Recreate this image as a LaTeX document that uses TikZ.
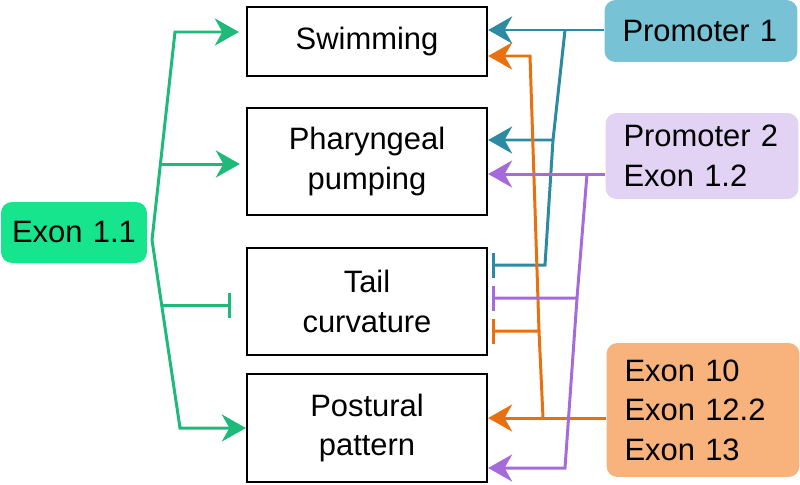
\documentclass[tikz,border=0pt]{standalone}
\usepackage{fontspec}
\setmainfont{Liberation Sans}[WordSpace=1.6]
\usepackage{tikz}
\usetikzlibrary{arrows.meta}
\usepackage{xcolor}
\definecolor{mint}{HTML}{17E58E}
\definecolor{mintline}{HTML}{1DBA7A}
\definecolor{tealfill}{HTML}{77C2D5}
\definecolor{tealline}{HTML}{2C8AA2}
\definecolor{lilac}{HTML}{E2D2F3}
\definecolor{lilacline}{HTML}{A66BDB}
\definecolor{apricot}{HTML}{F8B27C}
\definecolor{apricotline}{HTML}{E9700F}

\begin{document}
\begin{tikzpicture}[
  x=0.02cm, y=-0.02cm,
  >={Stealth[length=4.8mm,width=5.4mm,inset=1.5mm]},
  font=\fontsize{17.6}{22.5}\selectfont,
  trait/.style={rectangle, draw=black, line width=1.3pt, minimum width=4.8cm, align=center},
  src/.style={rectangle, rounded corners=2.2mm, align=left, text width=3.14cm,
              inner xsep=0.36cm},
  e/.style={line width=1.7pt},
  gl/.style={e, draw=mintline},
  tl/.style={e, draw=tealline},
  ol/.style={e, draw=apricotline},
  pl/.style={e, draw=lilacline},
  inh/.style={-{Bar[width=5mm]}},
]
\useasboundingbox (0,0) rectangle (800,484);

% traits
\node[trait, minimum height=1.38cm] (swim) at (367,41.5) {Swimming};
\node[trait, minimum height=2.14cm] (phar) at (367,161.5) {Pharyngeal\\pumping};
\node[trait, minimum height=2.14cm] (tail) at (367,301.5) {Tail\\curvature};
\node[trait, minimum height=2.16cm] (post) at (367,428) {Postural\\pattern};

% sources
\node[src, fill=mint, text width=2.6cm, inner xsep=0.16cm, align=center, minimum height=1.22cm] (exonA) at (74,232.5) {Exon 1.1};
\node[src, fill=tealfill, minimum height=1.24cm] (prom1) at (701,31) {Promoter 1};
\node[src, fill=lilac, minimum height=1.72cm] (prom2) at (702,156) {Promoter 2\\Exon 1.2};
\node[src, fill=apricot, minimum height=2.68cm] (exonB) at (703,410) {Exon 10\\Exon 12.2\\Exon 13};

% Exon 1.1 fan
\coordinate (g0) at (152,240);
\coordinate (gtop) at (175,32);
\coordinate (gbot) at (180,428);
\coordinate (gphar) at (160.5,164);
\coordinate (gtail) at (161.7,305);
\draw[gl,->] (g0) -- (gtop) -- ([xshift=-0.14cm]swim.west |- gtop);
\draw[gl,->] (g0) -- (gbot) -- (post.west |- gbot);
\draw[gl,->] (gphar) -- ([xshift=-0.12cm]phar.west |- gphar);
\draw[gl,inh] (gtail) -- ([xshift=-0.3cm]tail.west |- gtail);

% Promoter 1
\coordinate (t1) at (565,30);
\coordinate (t2) at (553,140);
\coordinate (t3) at (545,265);
\draw[tl,->] (prom1.west |- t1) -- (swim.east |- t1);
\draw[tl,->] (t1) -- (t2) -- (phar.east |- t2);
\draw[tl,inh] (t2) -- (t3) -- ([xshift=0.08cm]tail.east |- t3);

% Exon 10 / 12.2 / 13
\coordinate (o1) at (543,418);
\coordinate (o2) at (539,331);
\coordinate (o3) at (530,56);
\draw[ol,->] (exonB.west |- o1) -- (post.east |- o1);
\draw[ol,inh] (o1) -- (o2) -- ([xshift=0.08cm]tail.east |- o2);
\draw[ol,->] (o2) -- (o3) -- (swim.east |- o3);

% Promoter 2 / Exon 1.2
\coordinate (p1) at (587,174);
\coordinate (p2) at (577,298);
\coordinate (p3) at (565,468);
\draw[pl,->] (prom2.west |- p1) -- (phar.east |- p1);
\draw[pl,inh] (p1) -- (p2) -- ([xshift=0.08cm]tail.east |- p2);
\draw[pl,->] (p2) -- (p3) -- (post.east |- p3);
\end{tikzpicture}
\end{document}
